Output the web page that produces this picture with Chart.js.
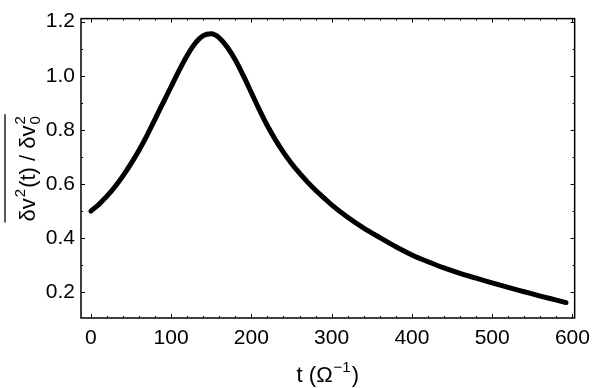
<!DOCTYPE html>
<html>
<head>
<meta charset="utf-8">
<script src="https://cdn.jsdelivr.net/npm/chart.js@4/dist/chart.umd.min.js"></script>
<style>
html,body{margin:0;padding:0;background:#fff;}
#wrap{width:598px;height:388px;}
</style>
</head>
<body>
<div id="wrap"><canvas id="c" width="598" height="388"></canvas></div>
<script>
const tValues = [0,10,20,30,40,50,60,70,80,90,100,110,120,130,140,150,160,170,180,190,200,210,220,230,240,250,260,270,280,290,300,320,340,360,380,400,420,440,460,480,500,520,540,560,580,592];
const ratioValues = [0.50,0.525,0.555,0.59,0.63,0.675,0.725,0.78,0.84,0.90,0.96,1.02,1.075,1.12,1.148,1.155,1.14,1.105,1.058,1.0,0.937,0.874,0.815,0.763,0.717,0.676,0.64,0.607,0.577,0.55,0.523,0.477,0.437,0.402,0.368,0.338,0.313,0.29,0.27,0.252,0.235,0.218,0.202,0.186,0.171,0.162];
const xTicks = [0,100,200,300,400,500,600];
const yTicks = [0.2,0.4,0.6,0.8,1.0,1.2];
const xMinor = 20;
const yMinor = 0.1;

const FONT = '"Liberation Sans", Arial, sans-serif';

function drawRich(ctx, segs, size) {
  let w = 0;
  const parts = [];
  for (const s of segs) {
    if (s.t !== undefined) {
      ctx.font = size + 'px ' + FONT;
      const mw = ctx.measureText(s.t).width;
      parts.push({type:'t', text:s.t, x:w});
      w += mw;
    } else {
      ctx.font = Math.round(size*0.66) + 'px ' + FONT;
      const a = s.sup ? ctx.measureText(s.sup).width : 0;
      const b = s.sub ? ctx.measureText(s.sub).width : 0;
      parts.push({type:'s', sup:s.sup, sub:s.sub, x:w+1});
      w += Math.max(a,b) + 2;
    }
  }
  return {w, parts};
}
function renderRich(ctx, segs, size, cx, cy, overline) {
  const m = drawRich(ctx, segs, size);
  const x0 = cx - m.w/2;
  ctx.fillStyle = '#000';
  ctx.textBaseline = 'alphabetic';
  ctx.textAlign = 'left';
  const base = cy + size*0.35;
  for (const p of m.parts) {
    if (p.type === 't') {
      ctx.font = size + 'px ' + FONT;
      ctx.fillText(p.text, x0 + p.x, base);
    } else {
      ctx.font = Math.round(size*0.66) + 'px ' + FONT;
      if (p.sup) ctx.fillText(p.sup, x0 + p.x, base - size*0.42);
      if (p.sub) ctx.fillText(p.sub, x0 + p.x, base + size*0.22);
    }
  }
  if (overline) {
    ctx.strokeStyle = '#000';
    ctx.lineWidth = 1.3;
    ctx.beginPath();
    ctx.moveTo(x0 - 1, cy - size*1.0);
    ctx.lineTo(x0 + m.w + 1, cy - size*1.0);
    ctx.stroke();
  }
}

const framePlugin = {
  id: 'frame',
  afterDatasetsDraw(chart) {
    const {ctx, chartArea: a, scales} = chart;
    ctx.save();
    ctx.strokeStyle = '#000';
    ctx.lineWidth = 1.5;
    ctx.strokeRect(a.left, a.top, a.right - a.left, a.bottom - a.top);
    ctx.lineWidth = 1;
    const xs = scales.x, ys = scales.y;
    ctx.beginPath();
    for (let v = xTicks[0]; v <= xTicks[xTicks.length-1] + 1e-9; v += xMinor) {
      const px = Math.round(xs.getPixelForValue(v)) + 0.5;
      const major = xTicks.some(t => Math.abs(t - v) < 1e-6);
      const L = major ? 4 : 2;
      ctx.moveTo(px, a.bottom); ctx.lineTo(px, a.bottom - L);
      ctx.moveTo(px, a.top); ctx.lineTo(px, a.top + L);
    }
    for (let v = 0.2; v <= 1.2 + 1e-9; v += yMinor) {
      const py = Math.round(ys.getPixelForValue(v)) + 0.5;
      const major = yTicks.some(t => Math.abs(t - v) < 1e-6);
      const L = major ? 4 : 2;
      ctx.moveTo(a.left, py); ctx.lineTo(a.left + L, py);
      ctx.moveTo(a.right, py); ctx.lineTo(a.right - L, py);
    }
    ctx.stroke();
    renderRich(ctx, [{t:'t (Ω'},{sup:'−1'},{t:')'}], 22, (a.left + a.right)/2, 374, false);
    ctx.translate(27, (a.top + a.bottom)/2);
    ctx.rotate(-Math.PI/2);
    renderRich(ctx, [{t:'δv'},{sup:'2'},{t:'(t) / δv'},{sup:'2', sub:'0'}], 22, 0, 0, true);
    ctx.restore();
  }
};

new Chart(document.getElementById('c'), {
  type: 'line',
  data: {
    datasets: [{
      data: tValues.map((t, i) => ({x: t, y: ratioValues[i]})),
      borderColor: '#000',
      borderWidth: 5,
      pointRadius: 0,
      fill: false,
      cubicInterpolationMode: 'monotone',
      borderCapStyle: 'round',
      borderJoinStyle: 'round'
    }]
  },
  options: {
    responsive: false,
    animation: false,
    devicePixelRatio: 1,
    layout: {padding: {top: 9, right: 16, left: 0, bottom: 0}},
    plugins: {legend: {display: false}, tooltip: {enabled: false}},
    scales: {
      x: {
        type: 'linear',
        min: -12.3,
        max: 602.8,
        grid: {display: false, drawTicks: false},
        border: {display: false},
        afterFit(s) { s.height = 70; },
        afterBuildTicks(s) { s.ticks = xTicks.map(v => ({value: v})); },
        ticks: {
          color: '#000',
          font: {family: FONT, size: 21},
          padding: 8,
          maxRotation: 0,
          callback: v => String(v)
        }
      },
      y: {
        min: 0.105,
        max: 1.211,
        grid: {display: false, drawTicks: false},
        border: {display: false},
        afterFit(s) { s.width = 81; },
        afterBuildTicks(s) { s.ticks = yTicks.map(v => ({value: v})); },
        ticks: {
          color: '#000',
          font: {family: FONT, size: 21},
          padding: 6,
          callback: v => Number(v).toFixed(1)
        }
      }
    }
  },
  plugins: [framePlugin]
});
</script>
</body>
</html>
